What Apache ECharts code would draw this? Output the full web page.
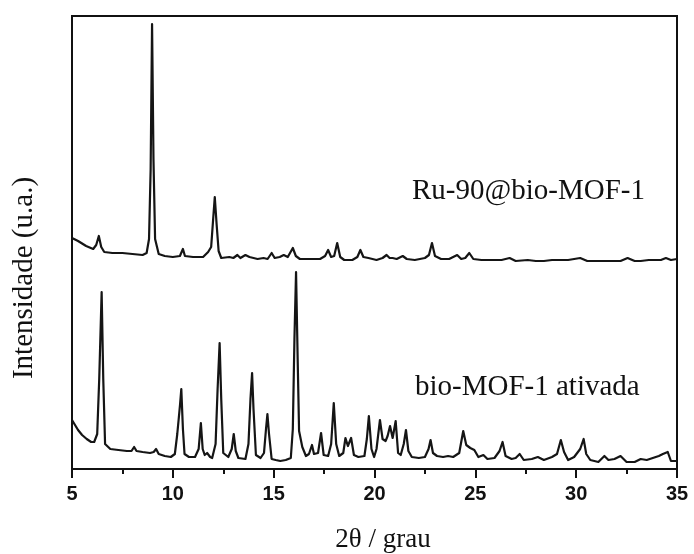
<!DOCTYPE html>
<html>
<head>
<meta charset="utf-8">
<script src="https://cdn.jsdelivr.net/npm/echarts@6/dist/echarts.min.js"></script>
<style>
html,body{margin:0;padding:0;background:#fff;}
#chart{width:694px;height:554px;}
</style>
</head>
<body>
<div id="chart"></div>
<script>
// 2θ tick labels
var xTicks = [5, 10, 15, 20, 25, 30, 35];
// Ru-90@bio-MOF-1 pattern (2θ, intensity a.u., offset)
var ru90Data = [
[5.0,231],[5.3,228],[5.7,223],[6.05,220],[6.2,224],[6.33,233],[6.45,222],[6.6,217],[7.0,216],[7.5,216],[8.0,215],[8.5,214],[8.7,216],[8.82,230],[8.9,300],[8.97,445],[9.04,310],[9.12,230],[9.3,215],[9.6,213],[10.0,212],[10.35,213],[10.5,220],[10.6,213],[11.0,212],[11.5,212],[11.75,217],[11.9,222],[12.0,250],[12.08,272],[12.17,245],[12.27,218],[12.4,211],[12.8,212],[13.0,211],[13.2,214],[13.35,211],[13.6,214],[13.8,212],[14.2,210],[14.5,211],[14.7,210],[14.9,216],[15.05,211],[15.3,212],[15.5,214],[15.7,212],[15.95,221],[16.1,213],[16.3,210],[16.8,210],[17.3,210],[17.55,213],[17.7,219],[17.85,212],[18.0,213],[18.15,226],[18.3,212],[18.5,209],[18.9,209],[19.15,212],[19.3,219],[19.45,212],[19.7,211],[20.1,209],[20.4,211],[20.6,214],[20.75,211],[20.9,211],[21.1,210],[21.4,213],[21.6,210],[22.0,209],[22.5,211],[22.7,214],[22.85,226],[23.0,213],[23.3,210],[23.7,210],[24.1,214],[24.3,210],[24.5,211],[24.7,216],[24.9,210],[25.3,209],[25.8,209],[26.3,209],[26.7,211],[27.0,208],[27.6,209],[28.0,208],[28.4,208],[28.8,209],[29.1,209],[29.6,209],[30.2,211],[30.55,208],[31.2,208],[31.7,208],[32.2,208],[32.55,211],[32.9,208],[33.2,208],[33.6,209],[33.9,209],[34.2,209],[34.45,211],[34.7,209],[35.0,210]
];
// bio-MOF-1 ativada pattern (2θ, intensity a.u.)
var bioMofData = [
[5.0,49],[5.15,44],[5.3,39],[5.5,34],[5.73,30],[5.95,27],[6.1,27],[6.25,35],[6.35,90],[6.47,177],[6.55,90],[6.64,25],[6.9,20],[7.3,19],[7.72,18],[7.95,18],[8.08,22],[8.2,18],[8.5,17],[8.87,16],[9.05,17],[9.17,20],[9.3,15],[9.6,13],[9.9,12],[10.1,15],[10.22,35],[10.3,52],[10.36,65],[10.42,80],[10.5,40],[10.58,15],[10.8,12],[11.1,12],[11.28,20],[11.39,46],[11.48,20],[11.58,14],[11.7,16],[11.85,12],[11.95,11],[12.12,25],[12.22,80],[12.32,126],[12.4,70],[12.5,16],[12.75,12],[12.92,20],[13.02,35],[13.12,18],[13.25,11],[13.6,10],[13.75,25],[13.85,70],[13.93,96],[14.0,60],[14.12,14],[14.35,11],[14.52,16],[14.62,40],[14.69,55],[14.77,35],[14.9,10],[15.1,9],[15.33,8],[15.6,9],[15.85,11],[15.95,40],[16.03,130],[16.11,197],[16.19,110],[16.26,38],[16.33,36],[16.42,22],[16.6,13],[16.75,15],[16.9,24],[17.0,15],[17.2,16],[17.35,36],[17.48,14],[17.7,13],[17.85,25],[17.98,66],[18.1,25],[18.25,13],[18.45,16],[18.56,31],[18.68,23],[18.84,31],[18.98,14],[19.2,12],[19.5,13],[19.62,30],[19.72,53],[19.85,20],[19.98,12],[20.1,20],[20.27,49],[20.4,30],[20.55,28],[20.65,33],[20.77,43],[20.9,31],[21.05,48],[21.17,16],[21.3,14],[21.45,25],[21.56,39],[21.68,18],[21.85,12],[22.2,11],[22.5,12],[22.68,20],[22.78,29],[22.9,16],[23.1,13],[23.4,12],[23.65,13],[23.9,12],[24.2,16],[24.4,38],[24.55,24],[24.75,21],[24.95,19],[25.15,12],[25.4,14],[25.6,10],[25.95,11],[26.2,18],[26.35,27],[26.5,13],[26.8,10],[27.0,11],[27.2,15],[27.4,9],[27.8,10],[28.1,12],[28.4,9],[28.8,12],[29.05,15],[29.24,29],[29.4,17],[29.6,9],[29.9,12],[30.2,20],[30.37,30],[30.5,15],[30.7,9],[31.1,7],[31.4,13],[31.6,9],[31.9,10],[32.2,13],[32.5,7],[32.9,7],[33.2,10],[33.5,9],[33.8,11],[34.1,13],[34.3,15],[34.54,17],[34.7,8],[35.0,8]
];
var seriesNames = ['Ru-90@bio-MOF-1', 'bio-MOF-1 ativada'];
var xAxisTitle = '2θ / grau';
var yAxisTitle = 'Intensidade (u.a.)';

var chart = echarts.init(document.getElementById('chart'), null, {renderer: 'canvas'});
var serif = '"Liberation Serif", "Times New Roman", serif';
chart.setOption({
  animation: false,
  backgroundColor: '#fff',
  grid: {left: 72, right: 17, top: 16, bottom: 85, show: true, borderColor: '#111', borderWidth: 2, backgroundColor: 'transparent'},
  xAxis: {
    type: 'value', min: xTicks[0], max: xTicks[xTicks.length - 1], interval: 5,
    axisLine: {show: true, lineStyle: {color: '#111', width: 2}},
    axisTick: {show: true, inside: false, length: 9, lineStyle: {color: '#111', width: 2}},
    minorTick: {show: true, splitNumber: 2, length: 5, lineStyle: {color: '#111', width: 2}},
    splitLine: {show: false},
    axisLabel: {margin: 15, color: '#111', fontFamily: '"Liberation Sans", Arial, sans-serif', fontWeight: 'bold', fontSize: 20}
  },
  yAxis: {
    type: 'value', min: 0, max: 453,
    axisLine: {show: true, lineStyle: {color: '#111', width: 2}},
    axisTick: {show: false}, axisLabel: {show: false}, splitLine: {show: false}
  },
  series: [
    {name: seriesNames[0], type: 'line', data: ru90Data, symbol: 'none', sampling: 'none',
     lineStyle: {color: '#151515', width: 2.2, join: 'round'}},
    {name: seriesNames[1], type: 'line', data: bioMofData, symbol: 'none', sampling: 'none',
     lineStyle: {color: '#151515', width: 2.2, join: 'round'}}
  ],
  graphic: [
    {type: 'text', left: 412, top: 177, style: {text: seriesNames[0], font: '29px ' + serif, fill: '#111'}},
    {type: 'text', left: 415, top: 373, style: {text: seriesNames[1], font: '29px ' + serif, fill: '#111'}},
    {type: 'text', x: 383, y: 540, style: {text: xAxisTitle, font: '27px ' + serif, fill: '#111', textAlign: 'center', textVerticalAlign: 'middle'}},
    {type: 'text', x: 24, y: 278, rotation: Math.PI / 2, style: {text: yAxisTitle, font: '29px ' + serif, fill: '#111', textAlign: 'center', textVerticalAlign: 'middle'}}
  ]
});
</script>
</body>
</html>
